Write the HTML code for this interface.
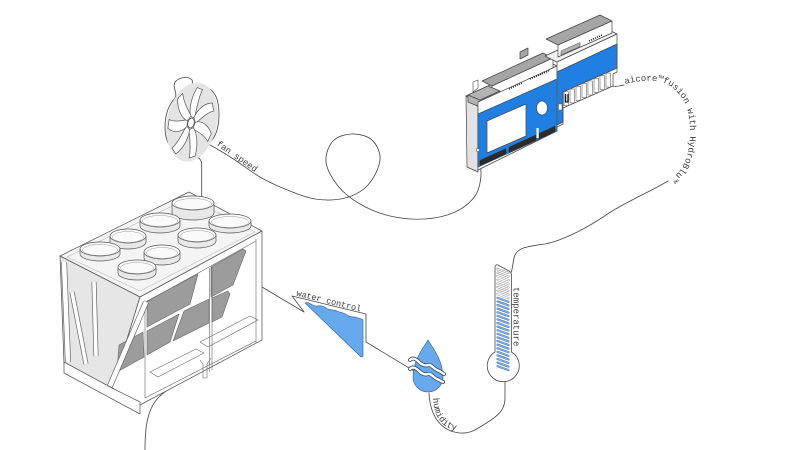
<!DOCTYPE html>
<html><head><meta charset="utf-8"><style>
html,body{margin:0;padding:0;background:#fff;}
svg{display:block;}
.t{font-family:"Liberation Mono",monospace;fill:#3a3a3a;}
</style></head><body>
<svg width="800" height="450" viewBox="0 0 800 450" xmlns="http://www.w3.org/2000/svg">
<rect width="800" height="450" fill="#fff"/>

<!-- ===== CONNECTOR LINES ===== -->
<g fill="none" stroke="#4a4a4a" stroke-width="0.85" stroke-linecap="round" stroke-linejoin="round">
  <path d="M208,144 C212.5,146 226.3,154.2 235,160 C243.7,165.8 251.7,172.2 260,177 C268.3,181.8 275.8,185.3 285,189 C294.2,192.7 305,197.5 315,199 C325,200.5 336.2,200.3 345,198 C353.8,195.7 362.2,191.3 368,185 C373.8,178.7 379.3,167.5 380,160 C380.7,152.5 376.7,144.3 372,140 C367.3,135.7 358.5,133.8 352,134 C345.5,134.2 337.3,136.3 333,141 C328.7,145.7 325.2,154.5 326,162 C326.8,169.5 332.3,179 338,186 C343.7,193 351.3,199 360,204 C368.7,209 379.2,213.5 390,216 C400.8,218.5 414.2,219.7 425,219 C435.8,218.3 446.7,215.8 455,212 C463.3,208.2 470.7,202.2 475,196 C479.3,189.8 480.5,182.7 481,175 C481.5,167.3 478.5,154.2 478,150"/>
  <path d="M201.7,200 L201.7,163 C201,157 193,155 183,155 C172,153 165,142 165,128 C165,115 168,106 175,98 C178,93 172,88 175,82 C179,77 189,76 192,80 C194,85 188,92 187,97 C192,90 200,86 208,88 C216,92 219,102 219,114 C219,128 216,138 208,144"/>
  <path d="M606,77 C606,86 612,88 624,85"/>
  <path d="M668,181 C650,192 625,202 606,215 C590,226 565,240 545,244 C530,246 516,247 514,258 L511.5,272"/>
  <path d="M242,279 L262,287 L304,312 L292,296 L366,314 L366,342 L414,371"/>
  <path d="M429,393 C430,415 440,431 460,433 C472,434 480,427 491,420 C500,414 505,408 505,398 L505,382"/>
  <path d="M145,450 C145,428 147,408 160,396 C172,386 188,372 200,364"/>
</g>

<!-- ===== FAN (disc) ===== -->
<ellipse cx="192" cy="122" rx="25" ry="40" transform="rotate(12 192 122)" fill="#e4e4e4"/>
<g transform="translate(191,123) rotate(12) scale(0.62,1)" fill="#fff" stroke="#555" stroke-width="0.7">
  <g id="bl"><path vector-effect="non-scaling-stroke" d="M-3,-6 C-9,-16 -7,-28 -2,-36 L7,-35 C3,-26 4,-15 4,-6 Z"/></g>
  <use href="#bl" transform="rotate(51.4)"/>
  <use href="#bl" transform="rotate(102.8)"/>
  <use href="#bl" transform="rotate(154.2)"/>
  <use href="#bl" transform="rotate(205.6)"/>
  <use href="#bl" transform="rotate(257)"/>
  <use href="#bl" transform="rotate(308.4)"/>
  <circle r="5" vector-effect="non-scaling-stroke"/>
</g>
<text class="t" font-size="8.8" x="216" y="145" transform="rotate(35 216 145)">fan speed</text>

<!-- ===== COOLER ===== -->
<g stroke="#555" stroke-width="0.75" stroke-linejoin="round">
  <polygon points="60,256 189,192 262,231 140,297" fill="#f4f4f4"/>
  <polygon points="67,257 189,198 255,232 140,291" fill="none" stroke="#aaa" stroke-width="0.5"/>
  <polygon points="60,256 140,297 112,388 64,364" fill="#e6e6e6"/>
  <polygon points="140,297 262,231 262,340 140,405 112,388" fill="#fff"/>
  <polygon points="64,362 112,388 140,402 140,414 64,373" fill="#fff"/>
  <g fill="#9c9c9c" stroke="#666" stroke-width="0.6">
    <polygon points="147,301 198,274 190,304 147,327"/>
    <polygon points="211,267 243,249 246,251 233,285 211,297"/>
    <polygon points="147,331 179,314 170,342 147,355"/>
    <polygon points="184,311 209,299 209,323 173,341"/>
    <polygon points="212,298 228,291 230,294 222,317 212,322"/>
    <polygon points="119,345 143,332 144,357 117,372"/>
  </g>
  <g fill="none" stroke="#666" stroke-width="0.6">
    <line x1="146" y1="302" x2="256" y2="241"/>
    <line x1="256" y1="239" x2="256" y2="343"/>
    <line x1="145" y1="300" x2="145" y2="398"/>
    <line x1="145" y1="398" x2="256" y2="341"/>
    <line x1="209.5" y1="268" x2="209.5" y2="372"/>
    <line x1="212" y1="267" x2="212" y2="370"/>
    <polygon points="200,342 250,316 258,320 208,347"/>
    <polygon points="150,372 196,349 204,353 158,377"/>
    <path d="M200,360 L203,364 L203,378 L207,378 L207,364 L211,358"/>
  </g>
  <g fill="none">
    <path d="M64,262 L68,362" stroke="#666" stroke-width="6"/>
    <path d="M64,262 L68,362" stroke="#fff" stroke-width="4.6"/>
    <path d="M72,292 L86,364" stroke="#666" stroke-width="5"/>
    <path d="M72,292 L86,364" stroke="#fff" stroke-width="3.6"/>
    <path d="M94,282 L96,356" stroke="#666" stroke-width="5"/>
    <path d="M94,282 L96,356" stroke="#fff" stroke-width="3.6"/>
    <path d="M110,386 L146,302" stroke="#666" stroke-width="6"/>
    <path d="M110,386 L146,302" stroke="#fff" stroke-width="4.6"/>
  </g>
  <g stroke="#555" stroke-width="0.7">
    <path d="M172,203 L172,213 A21,7 0 0 0 214,213 L214,203 Z" fill="#e8e8e8"/>
    <ellipse cx="193" cy="203" rx="21" ry="7" fill="#fafafa"/>
    <ellipse cx="193" cy="204" rx="18.5" ry="5.5" fill="none" stroke="#999" stroke-width="0.5"/>

    <path d="M140,220 L140,226 A20,7 0 0 0 180,226 L180,220 Z" fill="#e8e8e8"/>
    <ellipse cx="160" cy="220" rx="20" ry="7" fill="#fafafa"/>
    <ellipse cx="160" cy="221" rx="17.5" ry="5.5" fill="none" stroke="#999" stroke-width="0.5"/>

    <path d="M209,221 L209,226 A21,7 0 0 0 251,226 L251,221 Z" fill="#e8e8e8"/>
    <ellipse cx="230" cy="221" rx="21" ry="7" fill="#fafafa"/>
    <ellipse cx="230" cy="222" rx="18.5" ry="5.5" fill="none" stroke="#999" stroke-width="0.5"/>

    <path d="M178,235 L178,241 A19,7 0 0 0 216,241 L216,235 Z" fill="#e8e8e8"/>
    <ellipse cx="197" cy="235" rx="19" ry="7" fill="#fafafa"/>
    <ellipse cx="197" cy="236" rx="16.5" ry="5.5" fill="none" stroke="#999" stroke-width="0.5"/>

    <path d="M110,236 L110,242 A18,7 0 0 0 146,242 L146,236 Z" fill="#e8e8e8"/>
    <ellipse cx="128" cy="236" rx="18" ry="7" fill="#fafafa"/>
    <ellipse cx="128" cy="237" rx="15.5" ry="5.5" fill="none" stroke="#999" stroke-width="0.5"/>

    <path d="M80,249 L80,254 A20,7 0 0 0 120,254 L120,249 Z" fill="#e8e8e8"/>
    <ellipse cx="100" cy="249" rx="20" ry="7" fill="#fafafa"/>
    <ellipse cx="100" cy="250" rx="17.5" ry="5.5" fill="none" stroke="#999" stroke-width="0.5"/>

    <path d="M144,252 L144,258 A18,7 0 0 0 180,258 L180,252 Z" fill="#e8e8e8"/>
    <ellipse cx="162" cy="252" rx="18" ry="7" fill="#fafafa"/>
    <ellipse cx="162" cy="253" rx="15.5" ry="5.5" fill="none" stroke="#999" stroke-width="0.5"/>

    <path d="M118,267 L118,273 A19,7 0 0 0 156,273 L156,267 Z" fill="#e8e8e8"/>
    <ellipse cx="137" cy="267" rx="19" ry="7" fill="#fafafa"/>
    <ellipse cx="137" cy="268" rx="16.5" ry="5.5" fill="none" stroke="#999" stroke-width="0.5"/>
  </g>
</g>

<!-- ===== WATER CONTROL WEDGE ===== -->
<path d="M305,303 C309,301 312,306 316,306 C320,306 322,305 326,308 C330,311 333,309 337,311 C341,313 343,312 347,315 C351,318 355,316 358,318 C361,319 362,319 363,320 L363,356 Q362,358 360,356 Z" fill="#66a9ec" stroke="#2f5f96" stroke-width="0.6"/>
<text class="t" font-size="8.5" x="296" y="295.5" transform="rotate(14 296 295.5)">water control</text>

<!-- ===== DROP ===== -->
<path d="M428,340 C436,352 443,363 443,377 A15,15 0 0 1 413,377 C413,363 420,352 428,340 Z" fill="#66a9ec" stroke="#2f5f96" stroke-width="0.6"/>
<g fill="none" stroke-linecap="round">
  <path d="M410,360 c3,-3 6,-1 9,2 s6,4 9,3 s6,4 9,5 s5,3 7,4" stroke="#2f4a66" stroke-width="4"/>
  <path d="M410,360 c3,-3 6,-1 9,2 s6,4 9,3 s6,4 9,5 s5,3 7,4" stroke="#fff" stroke-width="2.4"/>
  <path d="M410,369 c3,-3 6,-1 9,2 s6,4 9,3 s6,4 9,5 s5,3 6,3" stroke="#2f4a66" stroke-width="4"/>
  <path d="M410,369 c3,-3 6,-1 9,2 s6,4 9,3 s6,4 9,5 s5,3 6,3" stroke="#fff" stroke-width="2.4"/>
</g>
<path id="hum" d="M433,398 C434,417 442,430 462,431" fill="none"/>
<text class="t" font-size="9"><textPath href="#hum">humidity</textPath></text>

<!-- ===== THERMOMETER ===== -->
<path d="M498,265 L509,271 Q511.5,272.5 511.5,275 L511.5,352 A16,16 0 1 1 495,352 L495,268 Q495,264 498,265 Z" fill="#fff" stroke="#4a4a4a" stroke-width="0.8"/>
<g fill="none" stroke-linecap="round">
  <path stroke="#8a8a8a" stroke-width="2.1" d="M497.5,269 L508.5,273 M497.5,272.6 L508.5,276.6 M497.5,276.2 L508.5,280.2 M497.5,279.8 L508.5,283.8 M497.5,283.4 L508.5,287.4 M497.5,287 L508.5,291 M497.5,290.6 L508.5,294.6 M497.5,294.2 L508.5,298.2"/>
  <path stroke="#fff" stroke-width="1.1" d="M497.5,269 L508.5,273 M497.5,272.6 L508.5,276.6 M497.5,276.2 L508.5,280.2 M497.5,279.8 L508.5,283.8 M497.5,283.4 L508.5,287.4 M497.5,287 L508.5,291 M497.5,290.6 L508.5,294.6 M497.5,294.2 L508.5,298.2"/>
  <path stroke="#4a6f98" stroke-width="2.1" d="M497.5,297.8 L508.5,301.8 M497.5,301.4 L508.5,305.4 M497.5,305 L508.5,309 M497.5,308.6 L508.5,312.6 M497.5,312.2 L508.5,316.2 M497.5,315.8 L508.5,319.8 M497.5,319.4 L508.5,323.4 M497.5,323 L508.5,327 M497.5,326.6 L508.5,330.6 M497.5,330.2 L508.5,334.2 M497.5,333.8 L508.5,337.8 M497.5,337.4 L508.5,341.4 M497.5,341 L508.5,345 M497.5,344.6 L508.5,348.6 M497.5,348.2 L508.5,352.2 M497.5,351.8 L508.5,355.8 M497.5,355.4 L508.5,359.4 M497.5,359 L508.5,363 M497.5,362.6 L508.5,366.6 M497.5,366.2 L508.5,370.2"/>
  <path stroke="#7ab2ee" stroke-width="1.2" d="M497.5,297.8 L508.5,301.8 M497.5,301.4 L508.5,305.4 M497.5,305 L508.5,309 M497.5,308.6 L508.5,312.6 M497.5,312.2 L508.5,316.2 M497.5,315.8 L508.5,319.8 M497.5,319.4 L508.5,323.4 M497.5,323 L508.5,327 M497.5,326.6 L508.5,330.6 M497.5,330.2 L508.5,334.2 M497.5,333.8 L508.5,337.8 M497.5,337.4 L508.5,341.4 M497.5,341 L508.5,345 M497.5,344.6 L508.5,348.6 M497.5,348.2 L508.5,352.2 M497.5,351.8 L508.5,355.8 M497.5,355.4 L508.5,359.4 M497.5,359 L508.5,363 M497.5,362.6 L508.5,366.6 M497.5,366.2 L508.5,370.2"/>
</g>
<text class="t" font-size="9" x="513.5" y="287" transform="rotate(90 513.5 287)">temperature</text>

<!-- ===== CONTROLLER ===== -->
<g stroke="#444" stroke-width="0.7" stroke-linejoin="round">
  <polygon points="466,96 478,102 478,172 467,167" fill="#e2e2e2"/>
  <polygon points="466,96 478,102 557,66 545,60" fill="#f1f1f1"/>
  <polygon points="482,81 543,53 553,58 492,86" fill="#a6a6a6"/>
  <polygon points="492,86 553,58 553,68 492,96" fill="#fff"/>
  <polygon points="520,52 528,48 528,55 520,59" fill="#a6a6a6"/>
  <polygon points="468,95 488,86 500,91 500,98 480,107 468,102" fill="#b3b3b3"/>
  <path d="M480,107 L480,100 L468,95 M480,100 L500,91 M484,98 L484,104 M490,95 L490,101" fill="none"/>
  <path d="M473,92 L473,82 L478,80 L478,88 Z" fill="#fff" stroke-width="0.6"/>
  <polygon points="478,102 557,66 557,131 478,170" fill="#fff"/>
  <polygon points="478,114 557,79 557,131 478,167" fill="#1f7fe3"/>
  <polygon points="487,121 526,104 526,136 487,153" fill="#fff"/>
  <ellipse cx="542" cy="108" rx="5.5" ry="7" fill="#fff"/>
  <g fill="#2c2c2c" stroke="#222" stroke-width="0.5">
    <polygon points="480,160.5 506,148.6 506,153.6 480,165.5"/>
    <polygon points="509,147.3 536,135 536,140 509,152.3"/>
    <polygon points="539,133.6 555,126.3 555,131.3 539,138.6"/>
  </g>
  <rect x="536.5" y="128" width="2.2" height="10" fill="#fff" stroke="none"/>
  <polygon points="545,56 557,62 617,34 605,28" fill="#f1f1f1"/>
  <polygon points="546,39 600,15 612,21 558,45" fill="#a6a6a6"/>
  <polygon points="558,45 612,21 612,33 558,57" fill="#fff"/>
  <polygon points="561,51 580,42.5 580,46.5 561,55" fill="#b0b0b0" stroke-width="0.5"/>
  <polygon points="557,62 617,34 617,72 613,74 613,86 563,108 563,124 557,127" fill="#fff"/>
  <polygon points="557,72 617,44 617,68 563,92 563,122 557,125" fill="#1f7fe3"/>
  <rect x="558.5" y="104" width="3.5" height="6" fill="#fff" stroke-width="0.4"/>
  <g fill="#fff" stroke="#666" stroke-width="0.6">
    <rect x="564" y="91.6" width="4.5" height="14"/>
    <rect x="570" y="88.9" width="4.5" height="14"/>
    <rect x="576" y="86.3" width="4.5" height="14"/>
    <rect x="582" y="83.6" width="4.5" height="14"/>
    <rect x="588" y="81" width="4.5" height="14"/>
    <rect x="594" y="78.4" width="4.5" height="14"/>
    <rect x="600" y="75.7" width="4.5" height="14"/>
    <rect x="606" y="73.1" width="4.5" height="14"/>
  </g>
  <path d="M565.5,94 L565.5,102 L568,102 L568,94" fill="none" stroke="#111" stroke-width="1.3"/>
  <line x1="557" y1="66" x2="557" y2="131" stroke="#777" stroke-width="0.5"/>
  <g stroke="#222" stroke-width="1.6" stroke-dasharray="1 1.2" fill="none">
    <line x1="509" y1="89" x2="522" y2="83"/>
    <line x1="530" y1="79" x2="549" y2="71"/>
    <line x1="589" y1="41" x2="602" y2="35"/>
  </g>
  <circle cx="478" cy="150" r="1.6" fill="#fff" stroke-width="0.6"/>
</g>

<path id="aic" d="M625,84 C642,80 661,78 673,88 C685,98 690,112 690,130 C690,155 685,170 668,181" fill="none"/>
<text class="t" font-size="9"><textPath href="#aic">aicore™fusion with HydroBlu™</textPath></text>

</svg>
</body></html>
